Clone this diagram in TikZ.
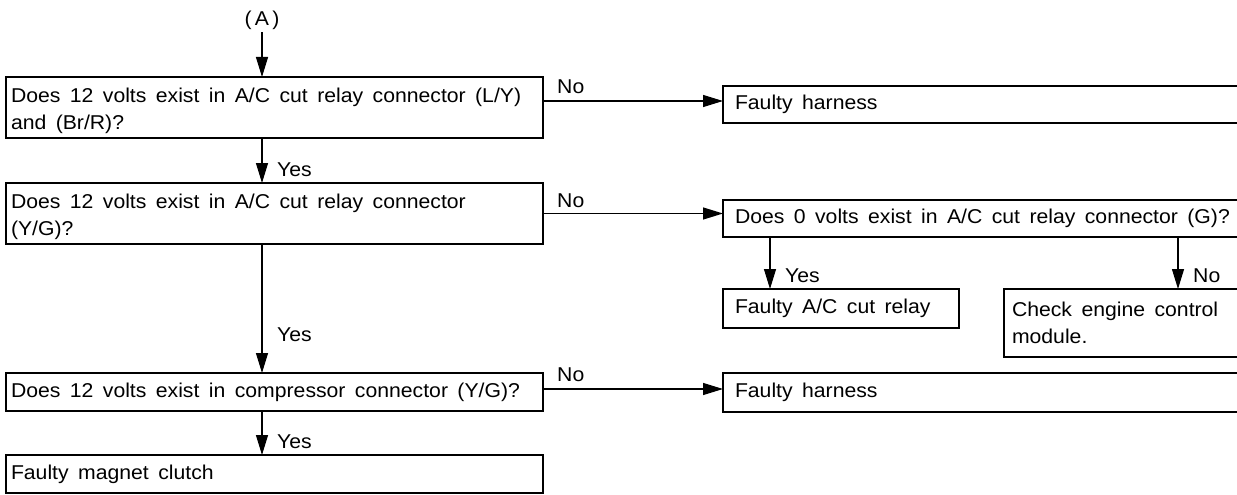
\documentclass[tikz,border=0pt]{standalone}
\usepackage{fontspec}
\setmainfont{Liberation Sans}[WordSpace=1.6, FakeStretch=1.06]
\usetikzlibrary{arrows.meta}
\newcommand{\boxtxt}[2]{\makebox[#1][l]{\begin{tabular}{@{}l@{}}#2\end{tabular}}}
\begin{document}
\begin{tikzpicture}[x=1pt,y=-1pt,
  every node/.style={font=\fontsize{20}{27}\selectfont},
  box/.style={draw, line width=1.3pt, anchor=north west, inner ysep=0pt, outer sep=0pt},
  lbl/.style={anchor=west, inner sep=0pt},
  arr/.style={line width=1.2pt, -{Triangle[length=20pt,width=12pt]}}]
\clip (0,0) rectangle (1237,495);
\fill[white] (0,0) rectangle (1237,495);

% entry label
\node[inner sep=1.5pt] (A) at (262,20) {(\,A\,)};

% left column
\node[box, minimum width=537pt, minimum height=61pt, inner xsep=5pt] (q1) at (6,77)
  {\rule{0pt}{39pt}\boxtxt{527pt}{Does 12 volts exist in A/C cut relay connector (L/Y)\\and (Br/R)?}};
\node[box, minimum width=537pt, minimum height=61pt, inner xsep=5pt] (q2) at (6,183)
  {\rule{0pt}{38pt}\boxtxt{527pt}{Does 12 volts exist in A/C cut relay connector\\(Y/G)?}};
\node[box, minimum width=537pt, minimum height=38pt, inner xsep=5pt] (q3) at (6,373)
  {\boxtxt{527pt}{Does 12 volts exist in compressor connector (Y/G)?}};
\node[box, minimum width=537pt, minimum height=38pt, inner xsep=5pt] (mc) at (6,455)
  {\boxtxt{527pt}{Faulty magnet clutch}};

% right column
\node[box, minimum width=560pt, minimum height=37pt, inner xsep=12pt] (fh1) at (723,86)
  {\boxtxt{536pt}{Faulty harness}};
\node[box, minimum width=560pt, minimum height=37pt, inner xsep=12pt] (q4) at (723,200)
  {\boxtxt{536pt}{Does 0 volts exist in A/C cut relay connector (G)?}};
\node[box, minimum width=236pt, minimum height=39pt, inner xsep=12pt] (rel) at (723,289)
  {\boxtxt{212pt}{Faulty A/C cut relay}};
\node[box, minimum width=280pt, minimum height=68pt, inner xsep=8pt] (ecm) at (1004,289)
  {\rule{0pt}{36pt}\boxtxt{264pt}{Check engine control\\module.}};
\node[box, minimum width=560pt, minimum height=39pt, inner xsep=12pt] (fh2) at (723,373)
  {\boxtxt{536pt}{Faulty harness}};

% helper coordinates for the branch arrows
\coordinate (cy) at (770,0);
\coordinate (cn) at (1178,0);

% vertical connectors
\draw[arr] ([yshift=-1pt]A.south) -- (A.south |- q1.north);
\draw[arr] (q1.south -| A) -- (q2.north -| A);
\draw[arr] (q2.south -| A) -- (q3.north -| A);
\draw[arr] (q3.south -| A) -- (mc.north -| A);
\draw[arr] (q4.south -| cy) -- (rel.north -| cy);
\draw[arr] (q4.south -| cn) -- (ecm.north -| cn);

% horizontal connectors
\draw[arr] ([yshift=3.5pt]fh1.west -| q1.east) -- ([yshift=3.5pt]fh1.west);
\draw[arr] ([yshift=5pt]q4.west -| q2.east) -- ([yshift=5pt]q4.west);
\draw[arr] ([yshift=3.5pt]fh2.west -| q3.east) -- ([yshift=3.5pt]fh2.west);

% labels
\node[lbl] (n1) at (557,87) {No};
\node[lbl] (n2) at (557,201) {No};
\node[lbl] (n3) at (557,375) {No};
\node[lbl] (y1) at (277,170) {Yes};
\node[lbl] (y2) at (277,335) {Yes};
\node[lbl] (y3) at (277,442) {Yes};
\node[lbl] (y4) at (785,276) {Yes};
\node[lbl] (n4) at (1193,276) {No};
\end{tikzpicture}
\end{document}
